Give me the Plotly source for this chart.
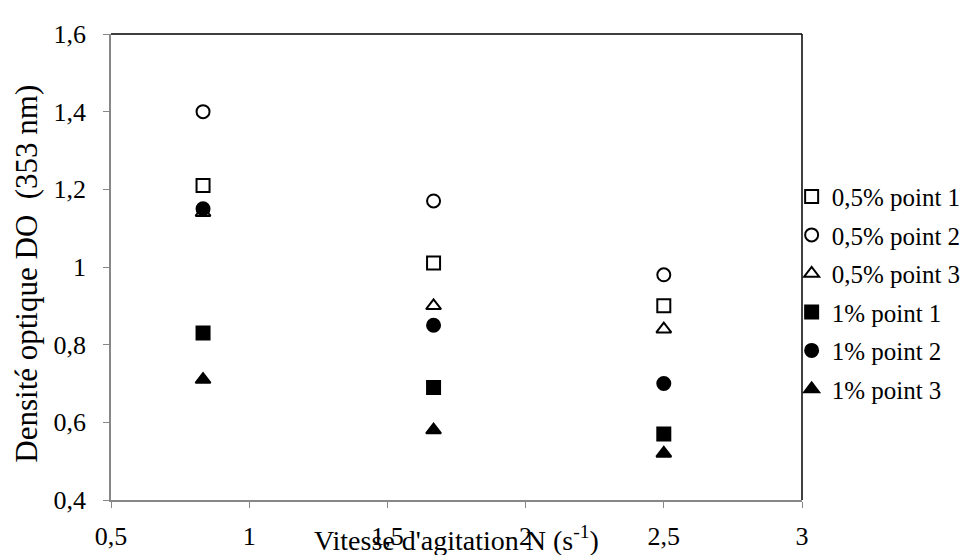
import plotly.graph_objects as go

# vitesse d'agitation (s-1)
vitesse = [0.833, 1.667, 2.5]

# densite optique DO a 353 nm, une liste par serie
do_05_p1 = [1.21, 1.01, 0.90]
do_05_p2 = [1.40, 1.17, 0.98]
do_05_p3 = [1.14, 0.90, 0.84]
do_1_p1 = [0.83, 0.69, 0.57]
do_1_p2 = [1.15, 0.85, 0.70]
do_1_p3 = [0.71, 0.58, 0.52]

series = [
    ('0,5% point 1', do_05_p1, 'square-open'),
    ('0,5% point 2', do_05_p2, 'circle-open'),
    ('0,5% point 3', do_05_p3, 'triangle-up-open'),
    ('1% point 1', do_1_p1, 'square'),
    ('1% point 2', do_1_p2, 'circle'),
    ('1% point 3', do_1_p3, 'triangle-up'),
]

x_ticks = [0.5, 1, 1.5, 2, 2.5, 3]
y_ticks = [0.4, 0.6, 0.8, 1, 1.2, 1.4, 1.6]

serif = 'Liberation Serif, Times New Roman, Times, serif'

fig = go.Figure()
for name, vals, sym in series:
    fig.add_trace(go.Scatter(x=vitesse, y=vals, mode='markers', name=name,
                             legendgroup=name,
                             marker=dict(symbol=sym, size=13, color='black',
                                         line=dict(color='black', width=2))))

axis_grey = '#878787'
fig.update_xaxes(range=[0.5, 3], tickvals=x_ticks, showgrid=False, zeroline=False,
                 showline=True, linecolor=axis_grey, linewidth=1.5,
                 ticks='outside', ticklen=6, tickcolor=axis_grey, ticklabelstandoff=6,
                 tickfont=dict(family=serif, size=26, color='black'))
fig.update_yaxes(range=[0.4, 1.6], tickvals=y_ticks, showgrid=False, zeroline=False,
                 showline=True, linecolor=axis_grey, linewidth=1.5,
                 ticks='outside', ticklen=6, tickcolor=axis_grey, ticklabelstandoff=12,
                 tickfont=dict(family=serif, size=26, color='black'))

# cadre noir en haut et a droite
fig.add_shape(type='line', xref='paper', yref='paper', x0=0, x1=1, y0=1, y1=1,
              line=dict(color='black', width=1.5))
fig.add_shape(type='line', xref='paper', yref='paper', x0=1, x1=1, y0=0, y1=1,
              line=dict(color='black', width=1.5))

fig.add_annotation(text="Vitesse d'agitation N (s<sup>-1</sup>)", xref='paper', yref='paper',
                   x=0.5, y=-0.083, yanchor='middle', showarrow=False,
                   font=dict(family=serif, size=28, color='black'))
fig.add_annotation(text='Densité optique DO  (353 nm)', xref='paper', yref='paper',
                   x=-0.122, xanchor='center', y=0.485, yanchor='middle', textangle=-90,
                   showarrow=False, font=dict(family=serif, size=31, color='black'))

fig.update_layout(
    width=970, height=555,
    margin=dict(l=103, r=164, t=25, b=62),
    paper_bgcolor='white', plot_bgcolor='white',
    separators=', ',
    font=dict(family=serif, color='black'),
    legend=dict(x=0.985, xanchor='left', y=0.445, yanchor='middle',
                font=dict(family=serif, size=25, color='black'), tracegroupgap=3,
                bgcolor='rgba(0,0,0,0)'),
)

fig.write_html('out.html')
